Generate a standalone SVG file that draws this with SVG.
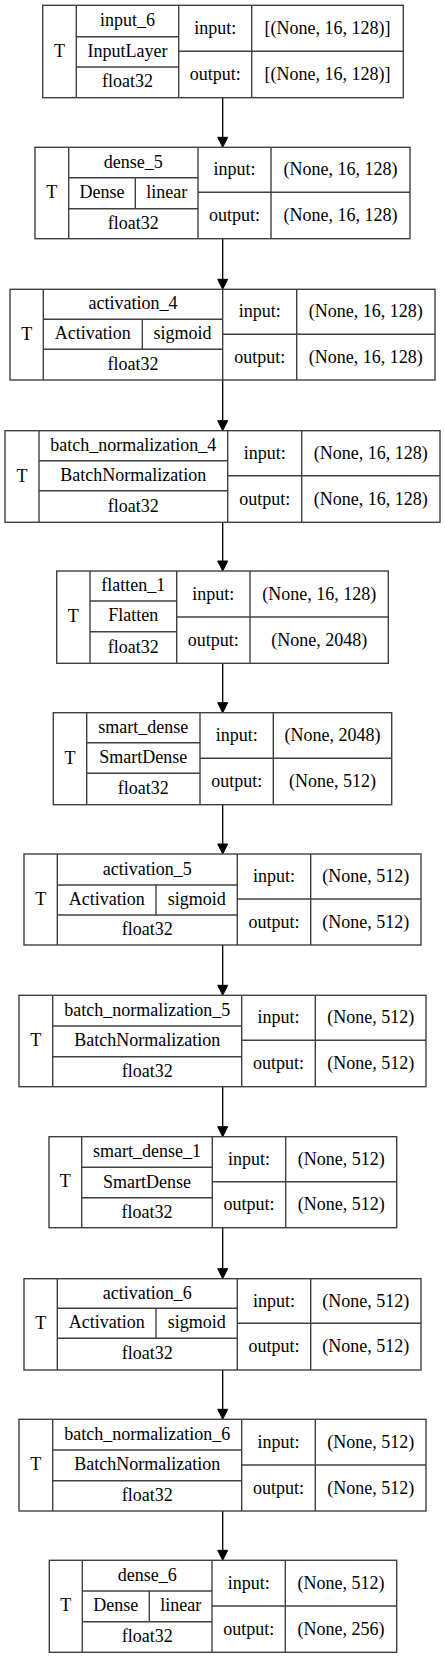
<svg xmlns="http://www.w3.org/2000/svg" width="445" height="1659" viewBox="0 0 445 1659">
<style>
rect.b{fill:#fff;stroke:#404040;stroke-width:1.4}
.n line{stroke:#404040;stroke-width:1.4}
text{font-family:"Liberation Serif","Times New Roman",serif;font-size:18px;fill:#000;text-anchor:middle}
.e line{stroke:#000;stroke-width:1.3}
.e polygon{fill:#000;stroke:#000;stroke-width:1}
</style>
<rect width="445" height="1659" fill="#fff"/>
<g class="e" id="edges">
<line x1="222.7" y1="97.7" x2="222.7" y2="137.3"/><polygon points="222.7,147.3 217.7,137.3 227.7,137.3"/>
<line x1="222.7" y1="238.7" x2="222.7" y2="279.3"/><polygon points="222.7,289.3 217.7,279.3 227.7,279.3"/>
<line x1="222.7" y1="380" x2="222.7" y2="420.7"/><polygon points="222.7,430.7 217.7,420.7 227.7,420.7"/>
<line x1="222.7" y1="522.3" x2="222.7" y2="561"/><polygon points="222.7,571 217.7,561 227.7,561"/>
<line x1="222.7" y1="663.3" x2="222.7" y2="702.7"/><polygon points="222.7,712.7 217.7,702.7 227.7,702.7"/>
<line x1="222.7" y1="804.7" x2="222.7" y2="844"/><polygon points="222.7,854 217.7,844 227.7,844"/>
<line x1="222.7" y1="945" x2="222.7" y2="985.3"/><polygon points="222.7,995.3 217.7,985.3 227.7,985.3"/>
<line x1="222.7" y1="1086.7" x2="222.7" y2="1126.7"/><polygon points="222.7,1136.7 217.7,1126.7 227.7,1126.7"/>
<line x1="222.7" y1="1227.7" x2="222.7" y2="1268.7"/><polygon points="222.7,1278.7 217.7,1268.7 227.7,1268.7"/>
<line x1="222.7" y1="1370" x2="222.7" y2="1409.3"/><polygon points="222.7,1419.3 217.7,1409.3 227.7,1409.3"/>
<line x1="222.7" y1="1511" x2="222.7" y2="1550.3"/><polygon points="222.7,1560.3 217.7,1550.3 227.7,1550.3"/>
</g>

<g class="n" id="input_6">
<rect class="b" x="42.7" y="5.3" width="360.6" height="92.4"/>
<line x1="76.3" y1="5.3" x2="76.3" y2="97.7"/><line x1="178.7" y1="5.3" x2="178.7" y2="97.7"/><line x1="251.7" y1="5.3" x2="251.7" y2="97.7"/>
<line x1="76.3" y1="36.7" x2="178.7" y2="36.7"/><line x1="76.3" y1="67" x2="178.7" y2="67"/><line x1="178.7" y1="51.3" x2="403.3" y2="51.3"/>
<text x="59.5" y="56.5">T</text><text x="127.5" y="26">input_6</text><text x="127.5" y="56.9">InputLayer</text><text x="127.5" y="87.4">float32</text>
<text x="215.2" y="33.8">input:</text><text x="215.2" y="80">output:</text>
<text x="327.5" y="33.8">[(None, 16, 128)]</text><text x="327.5" y="80">[(None, 16, 128)]</text>
</g>

<g class="n" id="dense_5">
<rect class="b" x="35" y="147.3" width="375" height="91.4"/>
<line x1="68.7" y1="147.3" x2="68.7" y2="238.7"/><line x1="198" y1="147.3" x2="198" y2="238.7"/><line x1="271" y1="147.3" x2="271" y2="238.7"/>
<line x1="68.7" y1="177.7" x2="198" y2="177.7"/><line x1="68.7" y1="208.7" x2="198" y2="208.7"/><line x1="135.3" y1="177.7" x2="135.3" y2="208.7"/><line x1="198" y1="192.3" x2="410" y2="192.3"/>
<text x="51.8" y="198">T</text><text x="133.3" y="167.5">dense_5</text><text x="102" y="198.2">Dense</text><text x="166.7" y="198.2">linear</text><text x="133.3" y="228.7">float32</text>
<text x="234.5" y="175.3">input:</text><text x="234.5" y="221">output:</text>
<text x="340.5" y="175.3">(None, 16, 128)</text><text x="340.5" y="221">(None, 16, 128)</text>
</g>

<g class="n" id="activation_4">
<rect class="b" x="10" y="289.3" width="425" height="90.7"/>
<line x1="43.3" y1="289.3" x2="43.3" y2="380"/><line x1="222.7" y1="289.3" x2="222.7" y2="380"/><line x1="296.7" y1="289.3" x2="296.7" y2="380"/>
<line x1="43.3" y1="319.3" x2="222.7" y2="319.3"/><line x1="43.3" y1="349.3" x2="222.7" y2="349.3"/><line x1="142.3" y1="319.3" x2="142.3" y2="349.3"/><line x1="222.7" y1="334.3" x2="435" y2="334.3"/>
<text x="26.7" y="339.7">T</text><text x="133" y="309.3">activation_4</text><text x="92.8" y="339.3">Activation</text><text x="182.5" y="339.3">sigmoid</text><text x="133" y="369.7">float32</text>
<text x="259.7" y="317.3">input:</text><text x="259.7" y="362.7">output:</text>
<text x="365.8" y="317.3">(None, 16, 128)</text><text x="365.8" y="362.7">(None, 16, 128)</text>
</g>

<g class="n" id="batch_normalization_4">
<rect class="b" x="5" y="430.7" width="435" height="91.6"/>
<line x1="39" y1="430.7" x2="39" y2="522.3"/><line x1="227.7" y1="430.7" x2="227.7" y2="522.3"/><line x1="301.7" y1="430.7" x2="301.7" y2="522.3"/>
<line x1="39" y1="460.7" x2="227.7" y2="460.7"/><line x1="39" y1="490.7" x2="227.7" y2="490.7"/><line x1="227.7" y1="475.7" x2="440" y2="475.7"/>
<text x="22" y="481.5">T</text><text x="133.3" y="450.7">batch_normalization_4</text><text x="133.3" y="480.7">BatchNormalization</text><text x="133.3" y="511.5">float32</text>
<text x="264.7" y="458.7">input:</text><text x="264.7" y="504.5">output:</text>
<text x="370.8" y="458.7">(None, 16, 128)</text><text x="370.8" y="504.5">(None, 16, 128)</text>
</g>

<g class="n" id="flatten_1">
<rect class="b" x="56.7" y="571" width="331.6" height="92.3"/>
<line x1="90" y1="571" x2="90" y2="663.3"/><line x1="176.7" y1="571" x2="176.7" y2="663.3"/><line x1="250" y1="571" x2="250" y2="663.3"/>
<line x1="90" y1="601" x2="176.7" y2="601"/><line x1="90" y1="631.7" x2="176.7" y2="631.7"/><line x1="176.7" y1="617" x2="388.3" y2="617"/>
<text x="73.3" y="622">T</text><text x="133.3" y="591">flatten_1</text><text x="133.3" y="621.3">Flatten</text><text x="133.3" y="652.5">float32</text>
<text x="213.3" y="599.5">input:</text><text x="213.3" y="645.7">output:</text>
<text x="319.2" y="599.5">(None, 16, 128)</text><text x="319.2" y="645.7">(None, 2048)</text>
</g>

<g class="n" id="smart_dense">
<rect class="b" x="53.3" y="712.7" width="338.4" height="92"/>
<line x1="86.7" y1="712.7" x2="86.7" y2="804.7"/><line x1="200" y1="712.7" x2="200" y2="804.7"/><line x1="273.3" y1="712.7" x2="273.3" y2="804.7"/>
<line x1="86.7" y1="742.7" x2="200" y2="742.7"/><line x1="86.7" y1="773.3" x2="200" y2="773.3"/><line x1="200" y1="758.3" x2="391.7" y2="758.3"/>
<text x="70" y="763.7">T</text><text x="143.3" y="732.7">smart_dense</text><text x="143.3" y="763">SmartDense</text><text x="143.3" y="794">float32</text>
<text x="236.7" y="741">input:</text><text x="236.7" y="787">output:</text>
<text x="332.5" y="741">(None, 2048)</text><text x="332.5" y="787">(None, 512)</text>
</g>

<g class="n" id="activation_5">
<rect class="b" x="24" y="854" width="397" height="91"/>
<line x1="57.3" y1="854" x2="57.3" y2="945"/><line x1="237.3" y1="854" x2="237.3" y2="945"/><line x1="310.7" y1="854" x2="310.7" y2="945"/>
<line x1="57.3" y1="885" x2="237.3" y2="885"/><line x1="57.3" y1="915" x2="237.3" y2="915"/><line x1="156" y1="885" x2="156" y2="915"/><line x1="237.3" y1="899" x2="421" y2="899"/>
<text x="40.7" y="904.5">T</text><text x="147.3" y="874.5">activation_5</text><text x="106.7" y="905">Activation</text><text x="196.7" y="905">sigmoid</text><text x="147.3" y="935">float32</text>
<text x="274" y="882">input:</text><text x="274" y="927.5">output:</text>
<text x="365.8" y="882">(None, 512)</text><text x="365.8" y="927.5">(None, 512)</text>
</g>

<g class="n" id="batch_normalization_5">
<rect class="b" x="19" y="995.3" width="407" height="91.4"/>
<line x1="52.7" y1="995.3" x2="52.7" y2="1086.7"/><line x1="241.7" y1="995.3" x2="241.7" y2="1086.7"/><line x1="315.3" y1="995.3" x2="315.3" y2="1086.7"/>
<line x1="52.7" y1="1026" x2="241.7" y2="1026"/><line x1="52.7" y1="1056.7" x2="241.7" y2="1056.7"/><line x1="241.7" y1="1040.3" x2="426" y2="1040.3"/>
<text x="35.8" y="1046">T</text><text x="147.2" y="1015.7">batch_normalization_5</text><text x="147.2" y="1046.3">BatchNormalization</text><text x="147.2" y="1076.7">float32</text>
<text x="278.5" y="1023.3">input:</text><text x="278.5" y="1069">output:</text>
<text x="370.7" y="1023.3">(None, 512)</text><text x="370.7" y="1069">(None, 512)</text>
</g>

<g class="n" id="smart_dense_1">
<rect class="b" x="49" y="1136.7" width="347.7" height="91"/>
<line x1="81.7" y1="1136.7" x2="81.7" y2="1227.7"/><line x1="212.3" y1="1136.7" x2="212.3" y2="1227.7"/><line x1="285.7" y1="1136.7" x2="285.7" y2="1227.7"/>
<line x1="81.7" y1="1167.3" x2="212.3" y2="1167.3"/><line x1="81.7" y1="1197.7" x2="212.3" y2="1197.7"/><line x1="212.3" y1="1181.7" x2="396.7" y2="1181.7"/>
<text x="65.3" y="1187.2">T</text><text x="147" y="1157">smart_dense_1</text><text x="147" y="1187.5">SmartDense</text><text x="147" y="1217.7">float32</text>
<text x="249" y="1164.7">input:</text><text x="249" y="1210.2">output:</text>
<text x="341.2" y="1164.7">(None, 512)</text><text x="341.2" y="1210.2">(None, 512)</text>
</g>

<g class="n" id="activation_6">
<rect class="b" x="24" y="1278.7" width="397" height="91.3"/>
<line x1="57.3" y1="1278.7" x2="57.3" y2="1370"/><line x1="237.3" y1="1278.7" x2="237.3" y2="1370"/><line x1="310.7" y1="1278.7" x2="310.7" y2="1370"/>
<line x1="57.3" y1="1308.3" x2="237.3" y2="1308.3"/><line x1="57.3" y1="1338.3" x2="237.3" y2="1338.3"/><line x1="156" y1="1308.3" x2="156" y2="1338.3"/><line x1="237.3" y1="1323.3" x2="421" y2="1323.3"/>
<text x="40.7" y="1329.3">T</text><text x="147.3" y="1298.5">activation_6</text><text x="106.7" y="1328.3">Activation</text><text x="196.7" y="1328.3">sigmoid</text><text x="147.3" y="1359.2">float32</text>
<text x="274" y="1306.5">input:</text><text x="274" y="1352.2">output:</text>
<text x="365.8" y="1306.5">(None, 512)</text><text x="365.8" y="1352.2">(None, 512)</text>
</g>

<g class="n" id="batch_normalization_6">
<rect class="b" x="19" y="1419.3" width="407" height="91.7"/>
<line x1="52.7" y1="1419.3" x2="52.7" y2="1511"/><line x1="241.7" y1="1419.3" x2="241.7" y2="1511"/><line x1="315.3" y1="1419.3" x2="315.3" y2="1511"/>
<line x1="52.7" y1="1450" x2="241.7" y2="1450"/><line x1="52.7" y1="1480.7" x2="241.7" y2="1480.7"/><line x1="241.7" y1="1465" x2="426" y2="1465"/>
<text x="35.8" y="1470.2">T</text><text x="147.2" y="1439.7">batch_normalization_6</text><text x="147.2" y="1470.3">BatchNormalization</text><text x="147.2" y="1500.8">float32</text>
<text x="278.5" y="1447.7">input:</text><text x="278.5" y="1493.5">output:</text>
<text x="370.7" y="1447.7">(None, 512)</text><text x="370.7" y="1493.5">(None, 512)</text>
</g>

<g class="n" id="dense_6">
<rect class="b" x="49.3" y="1560.3" width="347.4" height="92"/>
<line x1="82.3" y1="1560.3" x2="82.3" y2="1652.3"/><line x1="212" y1="1560.3" x2="212" y2="1652.3"/><line x1="285.3" y1="1560.3" x2="285.3" y2="1652.3"/>
<line x1="82.3" y1="1591" x2="212" y2="1591"/><line x1="82.3" y1="1621.7" x2="212" y2="1621.7"/><line x1="149.3" y1="1591" x2="149.3" y2="1621.7"/><line x1="212" y1="1606" x2="396.7" y2="1606"/>
<text x="65.8" y="1611.3">T</text><text x="147.2" y="1580.7">dense_6</text><text x="115.8" y="1611.3">Dense</text><text x="180.7" y="1611.3">linear</text><text x="147.2" y="1642">float32</text>
<text x="248.7" y="1588.7">input:</text><text x="248.7" y="1634.7">output:</text>
<text x="341" y="1588.7">(None, 512)</text><text x="341" y="1634.7">(None, 256)</text>
</g>
</svg>
